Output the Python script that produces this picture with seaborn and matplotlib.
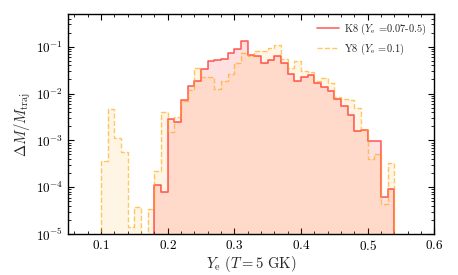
import numpy as np
import pandas as pd
import matplotlib
matplotlib.use("Agg")
import matplotlib.pyplot as plt
import seaborn as sns
from matplotlib.ticker import MultipleLocator, LogLocator, NullFormatter
from matplotlib.lines import Line2D

# mass fraction per Ye bin (bin width 0.01, left edges 0.09 ... 0.54)
# first and last bins are empty so the outlines drop back to the axis
bin_left = np.round(np.arange(0.09, 0.545, 0.01), 2)

k8 = [0,
      0, 0, 0, 0, 0, 0, 0, 0, 1.1e-4, 8e-5,
      2.9e-3, 2.5e-3, 7.2e-3, 1.45e-2, 1.9e-2, 3.3e-2, 5.0e-2, 5.3e-2, 5.5e-2, 7.2e-2,
      8.8e-2, 0.135, 0.066, 0.063, 0.044, 0.053, 0.062, 0.044, 0.026, 0.019,
      0.023, 0.025, 0.017, 0.0138, 0.0115, 0.0075, 0.0054, 0.0035, 0.0016, 0.0017,
      9.7e-4, 9.7e-4, 6.2e-5, 9.3e-5,
      0]

y8 = [0,
      3.6e-4, 4.6e-3, 1.15e-3, 5.6e-4, 1.4e-5, 3.7e-5, 0, 3.4e-5, 2.2e-4, 4.0e-3,
      1.5e-3, 3.1e-3, 7.0e-3, 1.2e-2, 3.5e-2, 2.3e-2, 2.3e-2, 1.28e-2, 1.9e-2, 2.6e-2,
      4.6e-2, 7.2e-2, 6.5e-2, 8.1e-2, 8.1e-2, 9.5e-2, 0.108, 0.054, 0.036, 0.050,
      0.031, 0.029, 0.019, 0.021, 0.0165, 0.0085, 0.0075, 0.0073, 0.0048, 0.0017,
      4.1e-4, 5.0e-4, 4.4e-5, 3.3e-4,
      0]

labels = ["K8 ($Y_\\mathrm{e}$ =0.07-0.5)", "Y8 ($Y_\\mathrm{e}$ =0.1)"]

df = pd.DataFrame({"ye": bin_left + 0.005, "K8": k8, "Y8": y8})
hist_kw = dict(binwidth=0.01, binrange=(0.09, 0.55), element="step")

sns.set_style("ticks")
plt.rcParams["font.family"] = "cmr10"
plt.rcParams["mathtext.fontset"] = "cm"
plt.rcParams["axes.formatter.use_mathtext"] = True

fig = plt.figure(figsize=(4.58, 2.75), dpi=100)
ax = fig.add_axes([0.148, 0.149, 0.8, 0.8])

# filled areas
sns.histplot(data=df, x="ye", weights="K8", fill=True, color="red", alpha=0.12,
             linewidth=0, ax=ax, **hist_kw)
sns.histplot(data=df, x="ye", weights="Y8", fill=True, color="orange", alpha=0.1,
             linewidth=0, ax=ax, **hist_kw)
# outlines
sns.histplot(data=df, x="ye", weights="K8", fill=False, color="red", alpha=0.6,
             linewidth=1.2, ax=ax, **hist_kw)
sns.histplot(data=df, x="ye", weights="Y8", fill=False, color="orange", alpha=0.6,
             linewidth=1.0, linestyle="--", ax=ax, **hist_kw)

ax.set_yscale("log")
ax.set_xlim(0.05, 0.6)
ax.set_ylim(1e-5, 0.5)

ax.xaxis.set_major_locator(MultipleLocator(0.1))
ax.xaxis.set_minor_locator(MultipleLocator(0.02))
ax.yaxis.set_major_locator(LogLocator(base=10, numticks=10))
ax.yaxis.set_minor_locator(LogLocator(base=10, subs=np.arange(2, 10), numticks=10))
ax.yaxis.set_minor_formatter(NullFormatter())
ax.tick_params(which="both", direction="in", top=True, right=True, labelsize=9.5, colors="black")
ax.tick_params(which="major", length=4, width=0.8)
ax.tick_params(which="minor", length=2, width=0.6)
for s in ax.spines.values():
    s.set_linewidth(1.0)
    s.set_color("black")

ax.set_xlabel("$Y_\\mathrm{e}$ ($T = 5$ GK)", fontsize=10.5, labelpad=1)
ax.set_ylabel("$\\Delta M/M_\\mathrm{traj}$", fontsize=10.5, labelpad=2)

handles = [Line2D([], [], color="red", alpha=0.6, lw=1.2),
           Line2D([], [], color="orange", alpha=0.6, lw=1.0, ls="--")]
ax.legend(handles, labels, loc="upper right", frameon=False, fontsize=7.5,
          handlelength=2.1, handletextpad=0.5, borderaxespad=0.3, labelspacing=0.45)

fig.savefig("out.png", dpi=100)
